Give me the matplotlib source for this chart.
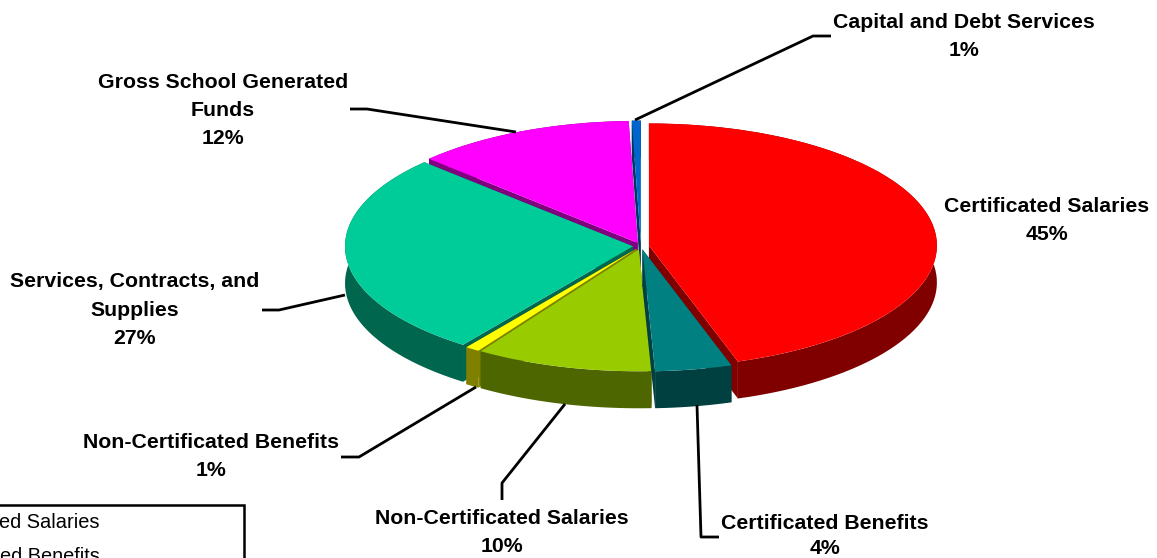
import matplotlib
matplotlib.use('Agg')
import matplotlib.pyplot as plt
from matplotlib.patches import Polygon, Rectangle
import numpy as np

# Chart data
categories = ['Certificated Salaries', 'Certificated Benefits', 'Non-Certificated Salaries',
              'Non-Certificated Benefits', 'Services, Contracts, and Supplies',
              'Gross School Generated Funds', 'Capital and Debt Services']
shares = [45.0, 4.3, 9.95, 0.8, 27.05, 12.4, 0.5]
pct_labels = ['45%', '4%', '10%', '1%', '27%', '12%', '1%']
top_colors = ['#FF0000', '#008080', '#99CC00', '#FFFF00', '#00CC99', '#FF00FF', '#0066CC']
side_colors = ['#800000', '#004040', '#4D6600', '#808000', '#00664D', '#800080', '#003366']

W, H = 1157, 558
RADIUS = 288
SQUASH = 122 / 288
DEPTH = 37 / SQUASH
EXPLODE = 8
CX, CY = 641, (H - 246) / SQUASH

plt.rcParams['font.family'] = ['Liberation Sans', 'DejaVu Sans']
fig = plt.figure(figsize=(W / 100, H / 100), dpi=100)

# Pie tops, squashed by the axes scale
ax = fig.add_axes([0, 0, 1, 1])
wedges, _ = ax.pie(shares, explode=[EXPLODE] * len(shares), colors=top_colors,
                   startangle=90, counterclock=False, radius=RADIUS, center=(CX, CY),
                   frame=True, wedgeprops={'linewidth': 0})
ax.set_aspect('auto')
ax.set_xlim(0, W)
ax.set_ylim(0, H / SQUASH)
ax.axis('off')

# Extruded walls, painted back to front
edges = np.concatenate([[0], np.cumsum(shares)]) / sum(shares) * 2 * np.pi
paint_order = [6, 5, 4, 0, 3, 2, 1]
for z, i in enumerate(paint_order):
    a0, a1 = edges[i], edges[i + 1]
    mid = (a0 + a1) / 2
    ox = CX + EXPLODE * np.sin(mid)
    oy = CY + EXPLODE * np.cos(mid)
    t = np.linspace(a0, a1, 80)
    rim = np.column_stack([ox + RADIUS * np.sin(t), oy + RADIUS * np.cos(t)])
    low = rim - [0, DEPTH]
    ax.add_patch(Polygon(np.vstack([rim, low[::-1]]), closed=True, fc=side_colors[i],
                         ec='none', zorder=10 + 2 * z))
    for edge in (rim[0], rim[-1]):
        quad = [[ox, oy], edge, edge - [0, DEPTH], [ox, oy - DEPTH]]
        ax.add_patch(Polygon(quad, closed=True, fc=side_colors[i], ec='none', zorder=10 + 2 * z))
    wedges[i].set_zorder(11 + 2 * z)

# Overlay in pixel coordinates for labels and leader lines
over = fig.add_axes([0, 0, 1, 1], zorder=5)
over.set_xlim(0, W)
over.set_ylim(H, 0)
over.axis('off')

label_text = ['Certificated Salaries', 'Certificated Benefits', 'Non-Certificated Salaries',
              'Non-Certificated Benefits', 'Services, Contracts, and\nSupplies',
              'Gross School Generated\nFunds', 'Capital and Debt Services']
label_pos = [(1047, 220), (825, 536), (502, 533), (211, 457), (135, 310), (223, 111), (964, 37)]
line_gaps = [1.6, 1.45, 1.6, 1.6, 1.6, 1.6, 1.6]
for text, pct, (x, y), gap in zip(label_text, pct_labels, label_pos, line_gaps):
    over.text(x, y, text + '\n' + pct, ha='center', va='center', fontsize=15.3,
              fontweight='bold', linespacing=gap, color='black')

leaders = [[(697, 405), (701, 537), (719, 537)],
           [(565, 404), (502, 483), (502, 500)],
           [(476, 387), (359, 457), (341, 457)],
           [(345, 295), (279, 310), (262, 310)],
           [(516, 132), (367, 109), (350, 109)],
           [(635, 120), (813, 36), (831, 36)]]
for line in leaders:
    xs, ys = zip(*line)
    over.plot(xs, ys, color='black', lw=2, solid_capstyle='butt')

# Legend box, cut off by the figure edge
over.add_patch(Rectangle((-60, 504.5), 304, 200, fc='white', ec='black', lw=1.8))
over.text(100, 522, categories[0], ha='right', va='center', fontsize=14.4, color='black')
over.text(100, 556, categories[1], ha='right', va='center', fontsize=14.4, color='black')

fig.savefig('out.png', dpi=100)
